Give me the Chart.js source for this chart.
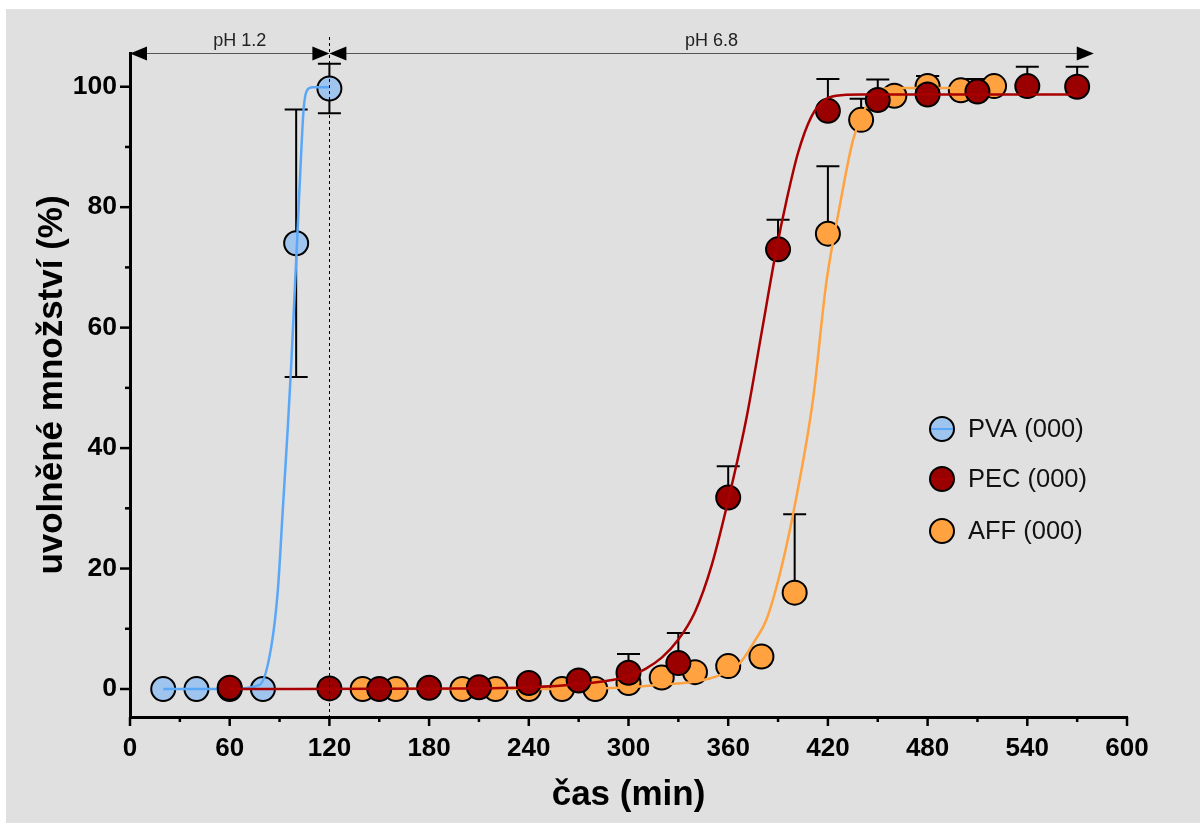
<!DOCTYPE html>
<html><head><meta charset="utf-8">
<script src="https://cdn.jsdelivr.net/npm/chart.js@4/dist/chart.umd.min.js"></script>
<style>
html,body{margin:0;padding:0;background:#fff;overflow:hidden;}
#c{position:absolute;left:0;top:0;}
</style></head><body>
<canvas id="c" width="1200" height="823"></canvas>
<script>
// ---- data ----
const seriesNames=['PVA (000)','PEC (000)','AFF (000)'];
const pvaX=[20,40,60,80,100,120];
const pvaY=[0,0,0,0,74,99.7];
const pvaErr=[0,0,0,0,22.2,4.1];
const pecX=[60,120,150,180,210,240,270,300,330,360,390,420,450,480,510,540,570];
const pecY=[0.2,0.1,0,0.2,0.3,1.0,1.4,2.7,4.3,31.8,73,96,97.8,98.7,99.2,100.1,100];
const pecErrUp=[0,0,0,0,0,0,0,3.1,5.0,5.2,4.9,5.3,3.4,3.1,2.1,3.2,3.3];
const affX=[140,160,200,220,240,260,280,300,320,340,360,380,400,420,440,460,480,500,520];
const affY=[0,0,0,0,0,0,0,1,1.9,2.8,3.8,5.4,16,75.6,94.5,98.5,100.1,99.4,100.1];
const affErrUp=[0,0,0,0,0,0,0,0,0,0,0,0,13,11.2,3.5,0,1.7,0,0];
// fitted curves
const pvaFitX=[20,60,78,85,89,92,95,97,99,101,102.5,104.5,106.5,110,120];
const pvaFitY=[0,0,0.7,7,16.5,30,43.6,53.7,65.3,77,86,96.3,99.4,99.9,99.9];
const pecFitX=[60,200,240,270,290,300,310,320,330,340,350,361,371,380,389,395,402,410,418,425,440,570];
const pecFitY=[0,0.1,0.3,0.8,1.5,2.1,3.3,5.2,8.2,12.8,20.5,32.5,45,59,73,81,89,95,97.8,98.5,98.7,98.7];
const affFitX=[140,260,300,319,339,355,367,376,383,391,399,411,419,427,435,443,451,460,520];
const affFitY=[0,0,0.3,0.7,1.2,2.3,4.3,8,11.5,19,29,48,67.4,80,91,96.7,99.5,99.8,99.8];
const xTicks=[0,60,120,180,240,300,360,420,480,540,600];
const xMinor=[30,90,150,210,270,330,390,450,510,570];
const yTicks=[0,20,40,60,80,100];
const yMinor=[10,30,50,70,90];
const phLabels=['pH 1.2','pH 6.8'];
const phRanges=[[0,120],[120,580]];
const phLabelX=[66,350];
const switchTime=120;

const FONT="'Liberation Sans', Arial, Helvetica, sans-serif";
const zip=(xs,ys)=>xs.map((x,i)=>({x:x,y:ys[i]}));

const bgPlugin={id:'bg',beforeDraw(c){const ctx=c.ctx;ctx.save();ctx.fillStyle='#ffffff';ctx.fillRect(0,0,1200,823);ctx.fillStyle='#e0e0e0';ctx.fillRect(6,9,1194,814);ctx.restore();}};

const errPlugin={id:'err',beforeDatasetsDraw(c){
  const ctx=c.ctx,xs=c.scales.x,ys=c.scales.y;
  ctx.save();ctx.strokeStyle='#000';ctx.lineWidth=2;
  const cap=11.5;
  const bar=(x,y,up,down)=>{
    const px=xs.getPixelForValue(x),py=ys.getPixelForValue(y);
    if(up>0){const t=ys.getPixelForValue(y+up);ctx.beginPath();ctx.moveTo(px,py);ctx.lineTo(px,t);ctx.moveTo(px-cap,t);ctx.lineTo(px+cap,t);ctx.stroke();}
    if(down>0){const b=ys.getPixelForValue(y-down);ctx.beginPath();ctx.moveTo(px,py);ctx.lineTo(px,b);ctx.moveTo(px-cap,b);ctx.lineTo(px+cap,b);ctx.stroke();}
  };
  pvaX.forEach((x,i)=>bar(x,pvaY[i],pvaErr[i],pvaErr[i]));
  affX.forEach((x,i)=>bar(x,affY[i],affErrUp[i],0));
  pecX.forEach((x,i)=>bar(x,pecY[i],pecErrUp[i],0));
  ctx.restore();
}};

const overlayPlugin={id:'overlay',
 afterDatasetsDraw(c){
  const ctx=c.ctx,xs=c.scales.x,ys=c.scales.y,a=c.chartArea;
  ctx.save();
  const sx=Math.round(xs.getPixelForValue(switchTime))+0.5;
  ctx.strokeStyle='#000';ctx.lineWidth=1;ctx.setLineDash([3,3]);
  ctx.beginPath();ctx.moveTo(sx,a.top-16);ctx.lineTo(sx,a.bottom);ctx.stroke();
  ctx.setLineDash([]);
  ctx.restore();
 },
 afterDraw(c){
  const ctx=c.ctx,xs=c.scales.x,ys=c.scales.y,a=c.chartArea;
  ctx.save();
  ctx.strokeStyle='#000';ctx.lineWidth=2.5;
  const axY=a.bottom, axX=a.left;
  xTicks.forEach(v=>{const p=xs.getPixelForValue(v);ctx.beginPath();ctx.moveTo(p,axY);ctx.lineTo(p,axY+9);ctx.stroke();});
  xMinor.forEach(v=>{const p=xs.getPixelForValue(v);ctx.beginPath();ctx.moveTo(p,axY);ctx.lineTo(p,axY+5);ctx.stroke();});
  yTicks.forEach(v=>{const p=ys.getPixelForValue(v);ctx.beginPath();ctx.moveTo(axX,p);ctx.lineTo(axX-10,p);ctx.stroke();});
  yMinor.forEach(v=>{const p=ys.getPixelForValue(v);ctx.beginPath();ctx.moveTo(axX,p);ctx.lineTo(axX-5,p);ctx.stroke();});
  const ay=a.top+0.5;
  ctx.font='18px '+FONT;ctx.textAlign='center';ctx.textBaseline='middle';
  phRanges.forEach((r,i)=>{
    const x0=xs.getPixelForValue(r[0]),x1=xs.getPixelForValue(r[1]);
    ctx.strokeStyle='#555';ctx.lineWidth=1.2;
    ctx.beginPath();ctx.moveTo(x0+10,ay);ctx.lineTo(x1-10,ay);ctx.stroke();
    ctx.fillStyle='#000';
    ctx.beginPath();ctx.moveTo(x0,ay);ctx.lineTo(x0+17,ay-7);ctx.lineTo(x0+17,ay+7);ctx.closePath();ctx.fill();
    ctx.beginPath();ctx.moveTo(x1,ay);ctx.lineTo(x1-17,ay-7);ctx.lineTo(x1-17,ay+7);ctx.closePath();ctx.fill();
    ctx.fillStyle='#222';
    ctx.fillText(phLabels[i],xs.getPixelForValue(phLabelX[i]),a.top-12);
  });
  const items=[c.data.datasets[0],c.data.datasets[4],c.data.datasets[2]];
  const lines=[c.data.datasets[1],c.data.datasets[5],c.data.datasets[3]];
  const lx=942,ly=[429,479,531];
  ctx.font='25.5px '+FONT;ctx.textAlign='left';ctx.textBaseline='middle';
  items.forEach((d,i)=>{
    ctx.beginPath();ctx.arc(lx,ly[i],12,0,Math.PI*2);
    ctx.fillStyle=d.backgroundColor;ctx.fill();
    ctx.strokeStyle=lines[i].borderColor;ctx.lineWidth=2;
    ctx.beginPath();ctx.moveTo(lx-11,ly[i]);ctx.lineTo(lx+11,ly[i]);ctx.stroke();
    ctx.beginPath();ctx.arc(lx,ly[i],12,0,Math.PI*2);
    ctx.strokeStyle='#000';ctx.lineWidth=2;ctx.stroke();
    ctx.fillStyle='#111';
    ctx.fillText(d.label,968,ly[i]+1);
  });
  ctx.restore();
 }};

const ptStyle=(fill)=>({showLine:false,pointRadius:12,pointHoverRadius:12,pointBorderWidth:2,pointBorderColor:'#000',pointBackgroundColor:fill,backgroundColor:fill,borderColor:'#000'});
const lnStyle=(col)=>({showLine:true,pointRadius:0,pointHoverRadius:0,borderColor:col,borderWidth:2.5,cubicInterpolationMode:'monotone',fill:false});

new Chart(document.getElementById('c'),{
  type:'scatter',
  data:{datasets:[
    Object.assign({label:seriesNames[0],data:zip(pvaX,pvaY),order:6},ptStyle('#9fc5ef')),
    Object.assign({label:seriesNames[0]+' fit',data:zip(pvaFitX,pvaFitY),order:5},lnStyle('#5aa7f7')),
    Object.assign({label:seriesNames[2],data:zip(affX,affY),order:4},ptStyle('#ffa23f')),
    Object.assign({label:seriesNames[2]+' fit',data:zip(affFitX,affFitY),order:3},lnStyle('#ffa23f')),
    Object.assign({label:seriesNames[1],data:zip(pecX,pecY),order:2},ptStyle('#9b0000')),
    Object.assign({label:seriesNames[1]+' fit',data:zip(pecFitX,pecFitY),order:1},lnStyle('#a80000'))
  ]},
  plugins:[bgPlugin,errPlugin,overlayPlugin],
  options:{
    responsive:false,animation:false,devicePixelRatio:1,
    layout:{padding:{left:0,top:53,right:73,bottom:0}},
    plugins:{legend:{display:false},tooltip:{enabled:false}},
    scales:{
      x:{type:'linear',position:'bottom',min:0,max:600,
        grid:{display:false,drawTicks:false},
        border:{display:true,color:'#000',width:3},
        ticks:{color:'#000',font:{family:FONT,size:26,weight:'bold'},padding:16,maxRotation:0,autoSkip:false},
        afterBuildTicks:s=>{s.ticks=xTicks.map(v=>({value:v}));},
        afterFit:s=>{s.height=106;},
        title:{display:true,text:'čas (min)',color:'#000',font:{family:FONT,size:35,weight:'bold'},padding:{top:0,bottom:7}}
      },
      y:{type:'linear',position:'left',min:-4.65,max:105.6,
        grid:{display:false,drawTicks:false},
        border:{display:true,color:'#000',width:3},
        ticks:{color:'#000',font:{family:FONT,size:26.5,weight:'bold'},padding:13,autoSkip:false},
        afterBuildTicks:s=>{s.ticks=yTicks.map(v=>({value:v}));},
        afterFit:s=>{s.width=130;},
        title:{display:true,text:'uvolněné množství (%)',color:'#000',font:{family:FONT,size:35,weight:'bold'},padding:{top:31,bottom:0}}
      }
    }
  }
});
</script>
</body></html>
